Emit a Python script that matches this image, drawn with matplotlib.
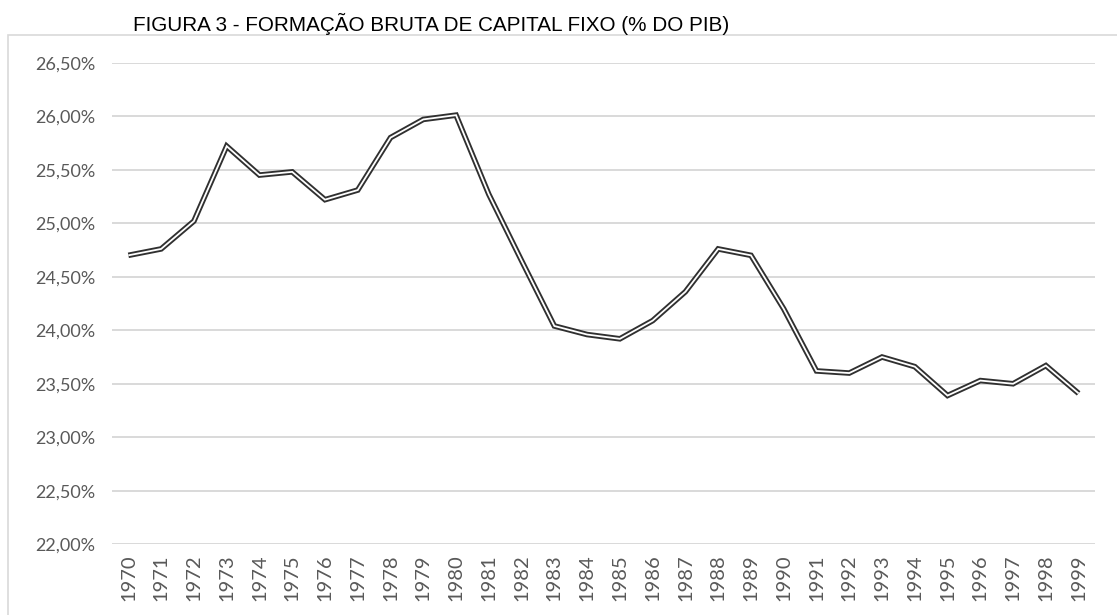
import matplotlib
matplotlib.use('Agg')
import matplotlib.pyplot as plt
from matplotlib.patches import Rectangle
from matplotlib.ticker import FuncFormatter

# Dados: FBCF em % do PIB
anos = [str(a) for a in range(1970, 2000)]
fbcf = [24.70, 24.76, 25.02, 25.72, 25.45, 25.48, 25.22, 25.31, 25.80, 25.97,
        26.01, 25.27, 24.65, 24.04, 23.96, 23.92, 24.09, 24.36, 24.76, 24.70,
        24.20, 23.62, 23.60, 23.75, 23.66, 23.39, 23.53, 23.50, 23.67, 23.41]
y_ticks = [22.0, 22.5, 23.0, 23.5, 24.0, 24.5, 25.0, 25.5, 26.0, 26.5]

W, H = 1117, 615
fig = plt.figure(figsize=(W / 100, H / 100), dpi=100)
fig.patch.set_facecolor('white')

# moldura cinza da área do gráfico
fig.patches.append(Rectangle((8 / W, -0.05), 1.1, 1 - 35 / H + 0.05,
                             transform=fig.transFigure, fill=False,
                             edgecolor='#d9d9d9', linewidth=1.2))

ax = fig.add_axes([112 / W, 1 - 544.3 / H, 983 / W, (544.3 - 62.7) / H])
x = list(range(len(anos)))

# linha dupla (contorno escuro + miolo branco)
ax.plot(x, fbcf, color='#303030', lw=4.0, solid_joinstyle='miter',
        solid_capstyle='butt', clip_on=False, zorder=3)
ax.plot(x, fbcf, color='white', lw=1.3, solid_joinstyle='miter',
        solid_capstyle='butt', clip_on=False, zorder=4)

ax.set_xlim(-0.5, len(anos) - 0.5)
ax.set_ylim(22.0, 26.5)
ax.set_yticks(y_ticks)
ax.yaxis.set_major_formatter(FuncFormatter(lambda v, p: f'{v:.2f}%'.replace('.', ',')))
ax.set_xticks(x)
ax.set_xticklabels(anos, rotation=90)

ax.grid(axis='y', color='#d9d9d9', linewidth=1.4)
ax.set_axisbelow(True)
for s in ax.spines.values():
    s.set_visible(False)
ax.tick_params(axis='both', length=0, colors='#595959')
ax.tick_params(axis='y', pad=12, labelsize=13)
ax.tick_params(axis='x', pad=7, labelsize=14.5)
for lab in ax.get_xticklabels() + ax.get_yticklabels():
    lab.set_fontfamily('Lato')

fig.text(133 / W, 1 - 31 / H, 'FIGURA 3 - FORMAÇÃO BRUTA DE CAPITAL FIXO (% DO PIB)',
         ha='left', va='baseline', fontsize=14.9, fontfamily='Liberation Sans',
         color='black')

fig.savefig('out.png', dpi=100)
